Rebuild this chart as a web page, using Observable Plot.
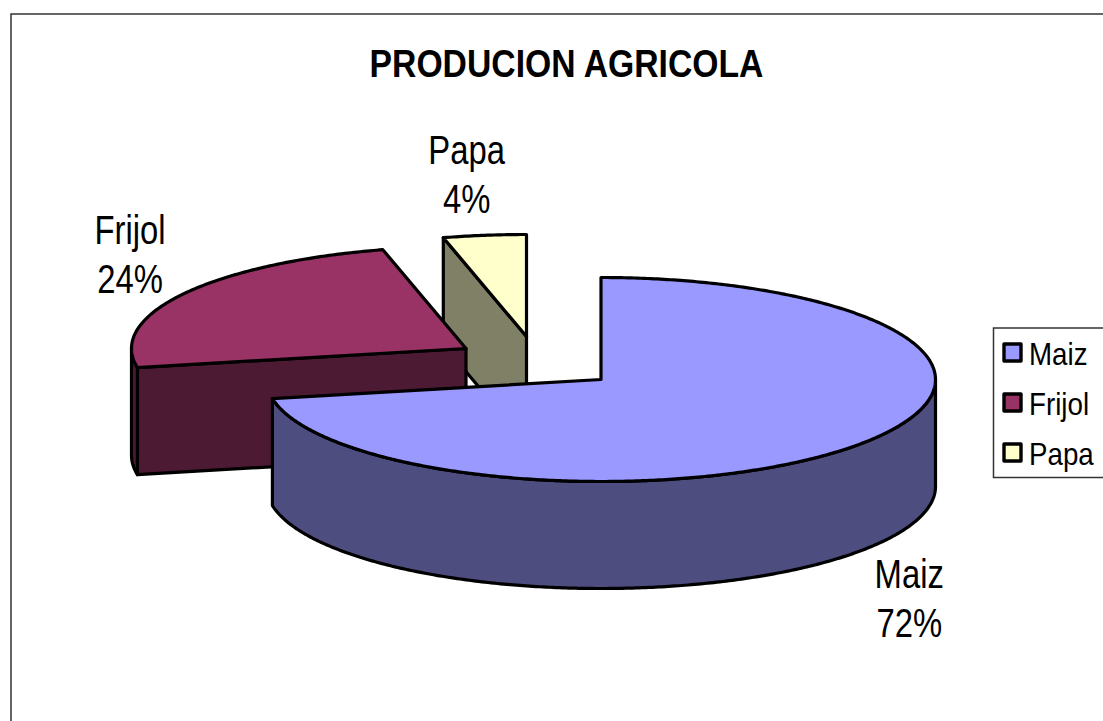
<!DOCTYPE html>
<html>
<head>
<meta charset="utf-8">
<script src="https://cdn.jsdelivr.net/npm/d3@7"></script>
<script src="https://cdn.jsdelivr.net/npm/@observablehq/plot@0.6"></script>
<style>
html,body{margin:0;padding:0;background:#fff;overflow:hidden}
svg{display:block}
</style>
</head>
<body>
<div id="chart"></div>
<script>
// Data
const chartTitle = "PRODUCION AGRICOLA";
const categories = ["Maiz", "Frijol", "Papa"];
const shares = [72, 24, 4];
const colors = ["#9999ff", "#993366", "#ffffcc"];

// Layout of the 3D projection
const W = 1103, H = 721;
const rx = 334.5, ry = 102, depth = 107;
const centres = [[600.5, 379], [465.5, 348], [526, 336]]; // exploded apex of each slice
const labelOffsets = [[50.5, 143], [-53.5, -50], [-18, -71]]; // baseline of first label line from outer edge
const lineGap = 49;
const shade = c => { const r = d3.rgb(c); return d3.rgb(r.r / 2, r.g / 2, r.b / 2).formatHex(); };

const total = d3.sum(shares);
const ends = Array.from(d3.cumsum(shares), v => v / total * 2 * Math.PI);
const starts = [0, ...ends.slice(0, -1)];
const slices = categories.map((name, i) => ({
  name, share: shares[i], color: colors[i], a0: starts[i], a1: ends[i],
  cx: centres[i][0], cy: centres[i][1]
}));

const pt = (s, a, drop = 0) => ({x: s.cx + rx * Math.sin(a), y: s.cy - ry * Math.cos(a) + drop});
const arc = (s, a0, a1, drop = 0) => {
  const n = Math.max(2, Math.ceil(Math.abs(a1 - a0) / 0.01));
  return d3.range(n + 1).map(k => pt(s, a0 + (a1 - a0) * k / n, drop));
};
const apex = (s, drop = 0) => ({x: s.cx, y: s.cy + drop});
const closed = p => [...p, p[0]];

const topFace = s => closed([apex(s), ...arc(s, s.a0, s.a1)]);
const radialWall = s => closed([pt(s, s.a0), apex(s), apex(s, depth), pt(s, s.a0, depth)]);
const outerWall = s => {
  const a0 = Math.max(s.a0, Math.PI / 2), a1 = Math.min(s.a1, 3 * Math.PI / 2);
  return closed([...arc(s, a0, a1), ...arc(s, a1, a0, depth)]);
};

const shape = (points, fill) => Plot.line(points, {
  x: "x", y: "y", fill, stroke: "#000", strokeWidth: 3.2, strokeLinejoin: "round", curve: "linear"
});

const [maiz, frijol, papa] = slices;

const labels = slices.flatMap((s, i) => {
  const e = pt(s, (s.a0 + s.a1) / 2);
  const x = e.x + labelOffsets[i][0], y = e.y + labelOffsets[i][1];
  return [{x, y, text: s.name}, {x, y: y + lineGap, text: s.share + "%"}];
});

// Legend
const legendBox = {x1: 993.5, x2: W + 10, y1: 328, y2: 477.5, sx: 1004, side: 17, tx: 1028.5, base: 364, step: 50};
const legendRows = slices.map((s, i) => ({
  name: s.name, color: s.color, base: legendBox.base + legendBox.step * i
}));

const chart = Plot.plot({
  width: W, height: H, margin: 0,
  x: {domain: [0, W], range: [0, W], axis: null},
  y: {domain: [0, H], range: [0, H], axis: null},
  style: {fontFamily: "'Liberation Sans', Arial, sans-serif", background: "#fff", color: "#000"},
  marks: [
    Plot.rect([{}], {x1: 11, x2: W + 10, y1: 14, y2: H + 10, fill: "#fff", stroke: "#333", strokeWidth: 1.5}),
    Plot.text([chartTitle], {x: 566, y: 76, text: d => d, fontSize: 38, fontWeight: "bold", textAnchor: "middle", lineAnchor: "bottom", fill: "#000", className: "t-title"}),

    shape(radialWall(papa), shade(papa.color)),
    shape(topFace(papa), papa.color),

    shape(radialWall(frijol), shade(frijol.color)),
    shape(outerWall(frijol), shade(frijol.color)),
    shape(topFace(frijol), frijol.color),

    shape(outerWall(maiz), shade(maiz.color)),
    shape(topFace(maiz), maiz.color),

    Plot.text(labels, {x: "x", y: "y", text: "text", fontSize: 40, textAnchor: "middle", lineAnchor: "bottom", fill: "#000", className: "t-label"}),

    Plot.rect([legendBox], {x1: "x1", x2: "x2", y1: "y1", y2: "y2", fill: "#fff", stroke: "#333", strokeWidth: 1.5}),
    Plot.rect(legendRows, {
      x1: legendBox.sx, x2: legendBox.sx + legendBox.side,
      y1: d => d.base - 20, y2: d => d.base - 20 + legendBox.side,
      fill: "color", stroke: "#000", strokeWidth: 3.4, strokeLinejoin: "round"
    }),
    Plot.text(legendRows, {x: legendBox.tx, y: "base", text: "name", fontSize: 31.5, textAnchor: "start", lineAnchor: "bottom", fill: "#000", className: "t-legend"})
  ]
});
document.getElementById("chart").append(chart);

// The reference type is horizontally condensed
const squeeze = {"t-title": 0.887, "t-label": 0.82, "t-legend": 0.88};
for (const [cls, k] of Object.entries(squeeze)) {
  chart.querySelectorAll("." + cls + " text, text." + cls).forEach(t => {
    t.setAttribute("textLength", (t.getComputedTextLength() * k).toFixed(1));
    t.setAttribute("lengthAdjust", "spacingAndGlyphs");
  });
}
</script>
</body>
</html>
